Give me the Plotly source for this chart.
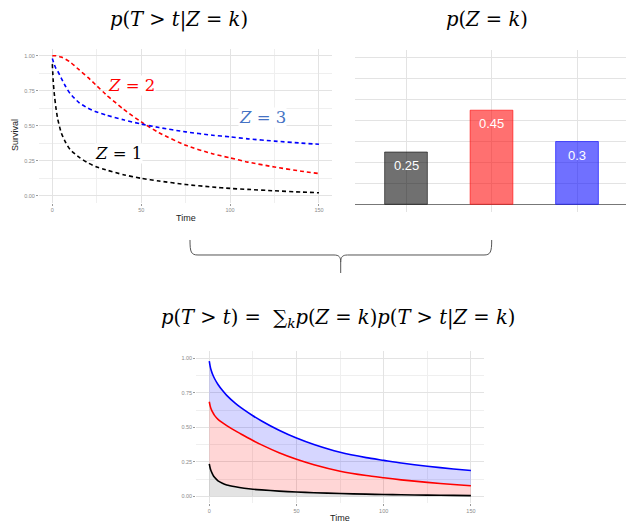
import plotly.graph_objects as go

W, H = 626, 523

# ---- data ----
time = [0, 0.5, 1, 2, 3, 5, 7.5, 10, 15, 20, 25, 30, 40, 50, 60, 75, 90, 100, 110, 125, 140, 150]
surv_z1 = [0.94, 0.82, 0.74, 0.63, 0.55, 0.45, 0.38, 0.33, 0.275, 0.235, 0.205, 0.185, 0.15, 0.124,
           0.105, 0.08, 0.062, 0.052, 0.045, 0.035, 0.026, 0.021]
surv_z2 = [1.0, 1.0, 1.0, 1.0, 0.998, 0.99, 0.975, 0.955, 0.9, 0.845, 0.785, 0.725, 0.618, 0.527,
           0.45, 0.36, 0.3, 0.27, 0.24, 0.205, 0.175, 0.158]
surv_z3 = [0.98, 0.96, 0.94, 0.91, 0.89, 0.84, 0.78, 0.73, 0.665, 0.625, 0.598, 0.577, 0.542, 0.512,
           0.487, 0.456, 0.432, 0.42, 0.406, 0.39, 0.376, 0.367]
group_k = [1, 2, 3]
group_labels = ["Z = 1", "Z = 2", "Z = 3"]
p_z = [0.25, 0.45, 0.3]
x_ticks = [0, 50, 100, 150]
y_ticks = [0, 0.25, 0.5, 0.75, 1.0]
y_ticklabels = ["0.00", "0.25", "0.50", "0.75", "1.00"]

line_colors = ["black", "red", "blue"]
bar_fill = ["rgba(0,0,0,0.56)", "rgba(255,0,0,0.56)", "rgba(0,0,255,0.56)"]
bar_line = ["rgba(0,0,0,0.55)", "rgba(255,0,0,0.6)", "rgba(0,0,255,0.6)"]
area_fill = ["rgba(0,0,0,0.11)", "rgba(255,0,0,0.16)", "rgba(0,0,255,0.16)"]
label_colors = ["black", "red", "#4472C4"]


def px(x):
    return x / W


def py(y):
    return 1 - y / H


fig = go.Figure()
survs = [surv_z1, surv_z2, surv_z3]

# top-left: conditional survival curves
for s, c in zip(survs, line_colors):
    fig.add_trace(go.Scatter(x=time, y=s, mode="lines", line=dict(color=c, width=1.6, dash="4px,3px", shape="spline", smoothing=0.6),
                             xaxis="x", yaxis="y", showlegend=False, hoverinfo="skip"))

# top-right: mixing probabilities
fig.add_trace(go.Bar(x=group_k, y=p_z, width=0.5, marker=dict(color=bar_fill, line=dict(color=bar_line, width=1)),
                     xaxis="x2", yaxis="y2", showlegend=False, hoverinfo="skip"))

# bottom: stacked mixture
cum = [0.0] * len(time)
for i, (s, w) in enumerate(zip(survs, p_z)):
    cum = [a + w * b for a, b in zip(cum, s)]
    fig.add_trace(go.Scatter(x=time, y=cum, mode="lines", line=dict(color=line_colors[i], width=1.6, shape="spline", smoothing=0.6),
                             fill="tozeroy" if i == 0 else "tonexty", fillcolor=area_fill[i],
                             xaxis="x3", yaxis="y3", showlegend=False, hoverinfo="skip"))

grid_major = "#e3e3e3"
grid_minor = "#efefef"
tickfont = dict(size=5.5, color="#8a8a8a", family="Liberation Sans")


def surv_xaxis(domain, anchor):
    return dict(domain=domain, anchor=anchor, range=[-7.5, 157.5], tickvals=x_ticks, ticktext=[str(v) for v in x_ticks],
                showgrid=True, gridcolor=grid_major, gridwidth=1, zeroline=False, showline=False,
                ticks="outside", ticklen=2, tickcolor="#999", tickwidth=0.6, tickfont=tickfont,
                minor=dict(tickvals=[25, 75, 125], showgrid=True, gridcolor=grid_minor, gridwidth=1, ticks=""))


def surv_yaxis(domain, anchor):
    return dict(domain=domain, anchor=anchor, range=[-0.05, 1.05], tickvals=y_ticks, ticktext=y_ticklabels,
                showgrid=True, gridcolor=grid_major, gridwidth=1, zeroline=False, showline=False,
                ticks="outside", ticklen=2, tickcolor="#999", tickwidth=0.6, tickfont=tickfont,
                minor=dict(tickvals=[0.125, 0.375, 0.625, 0.875], showgrid=True, gridcolor=grid_minor, gridwidth=1, ticks=""))


fig.update_layout(
    width=W, height=H, margin=dict(l=0, r=0, t=0, b=0),
    paper_bgcolor="white", plot_bgcolor="white",
    xaxis=surv_xaxis([px(39), px(332.3)], "y"),
    yaxis=surv_yaxis([py(202.7), py(48.7)], "x"),
    xaxis2=dict(domain=[px(355), 1.0], anchor="y2", range=[0.4035, 3.573], tickvals=group_k, showticklabels=False,
                showgrid=True, gridcolor="#e3e3e3", zeroline=False, ticks=""),
    yaxis2=dict(domain=[py(212), py(50)], anchor="x2", range=[-0.037, 0.738], dtick=0.1, showticklabels=False,
                showgrid=True, gridcolor="#e3e3e3", zeroline=True, zerolinecolor="#777", zerolinewidth=1, ticks=""),
    xaxis3=surv_xaxis([px(196.2), px(484)], "y3"),
    yaxis3=surv_yaxis([py(503.2), py(351.4)], "x3"),
)

math_font = dict(family="DejaVu Serif", color="black")
ann = []
# titles
ann.append(dict(x=px(179), y=py(20), xref="paper", yref="paper", showarrow=False, xanchor="center", yanchor="middle",
                text="<i>p</i>(<i>T</i> > <i>t</i>|<i>Z</i> = <i>k</i>)", font=dict(size=19.5, **math_font)))
ann.append(dict(x=px(487), y=py(20), xref="paper", yref="paper", showarrow=False, xanchor="center", yanchor="middle",
                text="<i>p</i>(<i>Z</i> = <i>k</i>)", font=dict(size=19.5, **math_font)))
ann.append(dict(x=px(338), y=py(318), xref="paper", yref="paper", showarrow=False, xanchor="center", yanchor="middle",
                text="<i>p</i>(<i>T</i> > <i>t</i>) =  ∑<sub><i>k</i></sub><i>p</i>(<i>Z</i> = <i>k</i>)<i>p</i>(<i>T</i> > <i>t</i>|<i>Z</i> = <i>k</i>)",
                font=dict(size=19.5, **math_font)))
# group labels on the curves
label_pos = [(37.5, 0.298), (44.8, 0.79), (118.5, 0.562)]
for (lx, ly), lab, col in zip(label_pos, group_labels, label_colors):
    z, rest = lab.split(" ", 1)
    ann.append(dict(x=lx, y=ly, xref="x", yref="y", showarrow=False, bgcolor="white", borderpad=0,
                    xanchor="center", yanchor="middle",
                    text=f"<i>{z}</i> {rest}", font=dict(size=16.5, family="DejaVu Serif", color=col)))
# bar value labels
for k, v in zip(group_k, p_z):
    ann.append(dict(x=k, y=v, xref="x2", yref="y2", showarrow=False, xanchor="center", yanchor="top", yshift=-4,
                    text=str(v), font=dict(size=13, color="white", family="Liberation Sans")))
# axis titles
ann.append(dict(x=px(15), y=py(135), xref="paper", yref="paper", showarrow=False, textangle=-90,
                xanchor="center", yanchor="middle",
                text="Survival", font=dict(size=9, color="#222", family="Liberation Sans")))
ann.append(dict(x=px(186), y=py(218), xref="paper", yref="paper", showarrow=False, xanchor="center", yanchor="middle",
                text="Time", font=dict(size=9, color="#222", family="Liberation Sans")))
ann.append(dict(x=px(340), y=py(518), xref="paper", yref="paper", showarrow=False, xanchor="center", yanchor="middle",
                text="Time", font=dict(size=9, color="#222", family="Liberation Sans")))
fig.update_layout(annotations=ann)


# curly brace linking the two top panels to the bottom one
def P(x, y):
    return f"{px(x):.5f},{py(y):.5f}"


path = (f"M{P(190,240)} C{P(190,252)} {P(191,255)} {P(198,255)} L{P(334,255)} "
        f"C{P(339,255)} {P(340.7,257)} {P(340.7,262)} L{P(340.7,273)} "
        f"M{P(340.7,262)} C{P(340.7,257)} {P(342.5,255)} {P(347.5,255)} L{P(484,255)} "
        f"C{P(490.5,255)} {P(491.7,252)} {P(491.7,240)}")
fig.add_shape(type="path", path=path, xref="paper", yref="paper", line=dict(color="#555", width=1))

fig.write_html("out.html")
